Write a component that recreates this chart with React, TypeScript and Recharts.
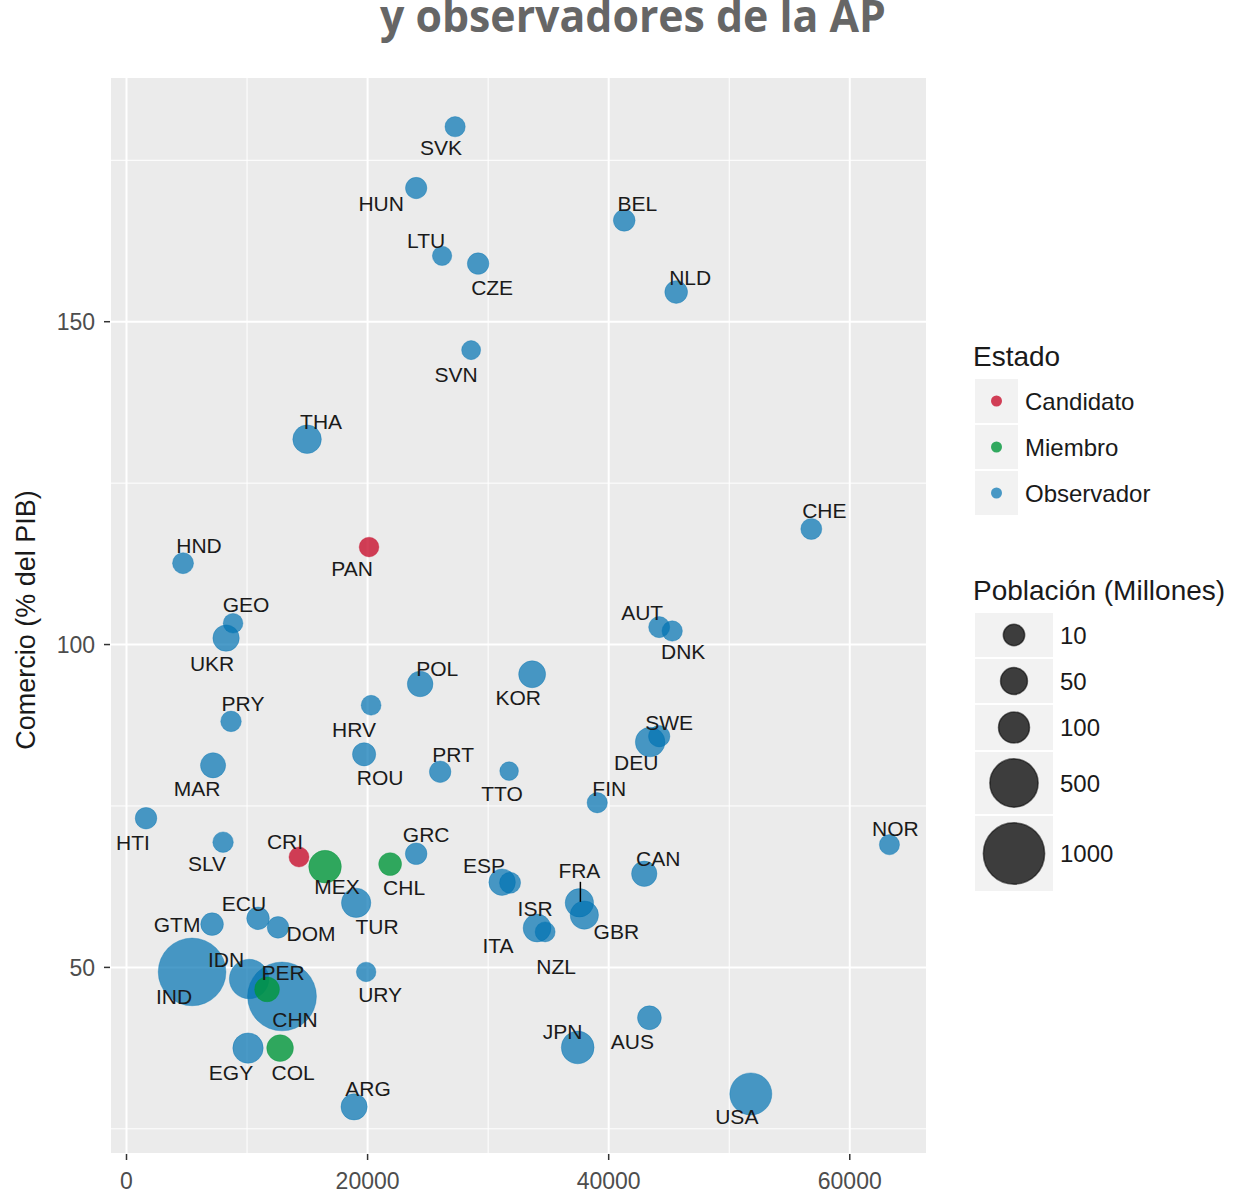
import React from "react";
import { ScatterChart, Scatter, XAxis, YAxis, CartesianGrid, ReferenceLine } from "recharts";

// country code, GDP per capita, trade (% GDP), population (millions), status
const codes = [
  "SVK", "HUN", "LTU", "CZE", "BEL", "NLD", "SVN", "THA", "HND", "GEO",
  "UKR", "POL", "KOR", "HRV", "PRY", "ROU", "PRT", "TTO", "MAR", "AUT",
  "DNK", "CHE", "SWE", "DEU", "FIN", "HTI", "NOR", "SLV", "GRC", "ESP",
  "ISR", "ITA", "NZL", "FRA", "GBR", "CAN", "JPN", "AUS", "USA", "GTM",
  "ECU", "DOM", "TUR", "URY", "IND", "IDN", "CHN", "EGY", "ARG",
  "PAN", "CRI",
  "MEX", "CHL", "PER", "COL",
];
const gdpPc = [
  27260, 24030, 26180, 29170, 41290, 45600, 28590, 14980, 4690, 8840,
  8260, 24360, 33650, 20290, 8670, 19710, 26020, 31740, 7180, 44190,
  45270, 56810, 44190, 43440, 39050, 1620, 63290, 8010, 24030, 31160,
  31820, 34060, 34730, 37570, 37980, 42950, 37430, 43380, 51790, 7100,
  10910, 12570, 19050, 19880, 5440, 10170, 12900, 10080, 18880,
  20120, 14310,
  16470, 21870, 11660, 12740,
];
const trade = [
  180.2, 170.7, 160.2, 159.0, 165.7, 154.6, 145.6, 131.8, 112.6, 103.3,
  101.0, 93.9, 95.4, 90.6, 88.1, 83.0, 80.3, 80.4, 81.3, 102.7,
  102.1, 117.9, 85.8, 84.9, 75.5, 73.1, 69.0, 69.4, 67.6, 63.2,
  63.1, 56.1, 55.5, 60.0, 58.1, 64.5, 37.6, 42.2, 30.4, 56.7,
  57.6, 56.2, 60.0, 49.3, 49.3, 48.2, 45.5, 37.5, 28.4,
  115.1, 67.1,
  65.6, 66.0, 46.6, 37.5,
];
const population = [
  5.4, 9.8, 2.9, 10.5, 11.3, 16.9, 2.1, 68, 8.1, 3.7,
  45, 38, 50.6, 4.2, 6.6, 19.8, 10.4, 1.4, 34, 8.6,
  5.7, 8.3, 9.8, 81, 5.5, 10.7, 5.2, 6.3, 10.8, 46.4,
  8.4, 60.7, 4.6, 66.6, 65.1, 35.8, 127, 23.8, 321, 16.3,
  16.1, 10.5, 78.3, 3.4, 1311, 258, 1371, 91.5, 43.4,
  3.9, 4.8,
  125, 17.8, 31.4, 48.2,
];
const estado = [
  ...Array(49).fill("Observador"),
  "Candidato", "Candidato",
  "Miembro", "Miembro", "Miembro", "Miembro",
];

const estadoLevels = ["Candidato", "Miembro", "Observador"];
const drawOrder = ["Observador", "Candidato", "Miembro"];
const sizeBreaks = [10, 50, 100, 500, 1000];
const xTicks = [0, 20000, 40000, 60000];
const yTicks = [50, 100, 150];
const xMinor = [10000, 30000, 50000];
const yMinor = [25, 75, 125, 175];

// label placement (pixel offsets from point centre), like ggrepel output
const labelOffset: Record<string, [number, number]> = {
  SVK: [-14, 21], HUN: [-35, 15], LTU: [-16, -15], CZE: [14, 24], BEL: [13, -17],
  NLD: [14, -15], SVN: [-15, 24], THA: [14, -18], HND: [16, -18], PAN: [-17, 21],
  GEO: [13, -19], UKR: [-14, 25], POL: [17, -15], KOR: [-14, 23], HRV: [-17, 24],
  PRY: [12, -18], ROU: [16, 23], PRT: [13, -17], TTO: [-7, 22], MAR: [-16, 23],
  AUT: [-17, -15], DNK: [11, 21], CHE: [13, -18], SWE: [10, -14], DEU: [-14, 20],
  FIN: [12, -14], HTI: [-13, 24], NOR: [6, -16], SLV: [-16, 21], CRI: [-14, -15],
  MEX: [12, 20], GRC: [10, -19], CHL: [14, 23], ESP: [-18, -17], ISR: [25, 26],
  ITA: [-39, 17], NZL: [11, 35], FRA: [0, -32], GBR: [32, 16], CAN: [14, -15],
  JPN: [-15, -16], AUS: [-17, 24], USA: [-14, 23], GTM: [-35, 0], ECU: [-14, -15],
  DOM: [33, 6], TUR: [21, 24], URY: [14, 23], IND: [-18, 25], IDN: [-23, -20],
  CHN: [13, 23], PER: [16, -17], EGY: [-17, 24], COL: [13, 24], ARG: [14, -18],
};
const withSegment = ["FRA"];

const colors: Record<string, string> = {
  Candidato: "#c8102e",
  Miembro: "#00963a",
  Observador: "#0072B2",
};
const opacity: Record<string, number> = { Candidato: 0.8, Miembro: 0.8, Observador: 0.7 };

const rows = codes.map((code, i) => ({
  code,
  gdp: gdpPc[i],
  trade: trade[i],
  pop: population[i],
  estado: estado[i],
}));

// scale_size-like: diameter grows with sqrt(population)
const diameter = (p: number) => 17 + 1.4 * Math.sqrt(p);

const FONT = "'Liberation Sans', Arial, sans-serif";

const PointShape = (props: any) => {
  const { cx, cy, payload } = props;
  if (cx == null || cy == null) return null;
  const c = colors[payload.estado];
  const o = opacity[payload.estado];
  return (
    <circle
      cx={cx}
      cy={cy}
      r={diameter(payload.pop) / 2}
      fill={c}
      fillOpacity={o}
      stroke={c}
      strokeOpacity={0.35}
      strokeWidth={1}
    />
  );
};

const LabelShape = (props: any) => {
  const { cx, cy, payload } = props;
  if (cx == null || cy == null) return null;
  const [dx, dy] = labelOffset[payload.code] || [0, -18];
  return (
    <g>
      {withSegment.includes(payload.code) && (
        <line x1={cx + 1} y1={cy - 21} x2={cx + 1} y2={cy - 1} stroke="#000" strokeWidth={1.5} />
      )}
      <text
        x={cx + dx}
        y={cy + dy + 7.5}
        textAnchor="middle"
        fontSize={21}
        fontFamily={FONT}
        fill="#1a1a1a"
      >
        {payload.code}
      </text>
    </g>
  );
};

const YTitle = () => (
  <text
    transform="translate(35,620) rotate(-90)"
    x={0}
    y={0}
    textAnchor="middle"
    fontSize={27}
    fontFamily={FONT}
    fill="#1a1a1a"
  >
    Comercio (% del PIB)
  </text>
);

function Legends() {
  let y = 613;
  const sizeRows = sizeBreaks.map((v) => {
    const d = diameter(v);
    const h = Math.max(44, Math.round(d + 14));
    const row = { v, d, y, h };
    y += h + 2;
    return row;
  });
  return (
    <svg
      width={1233}
      height={1193}
      style={{ position: "absolute", left: 0, top: 0, pointerEvents: "none" }}
    >
      <text
        x={633}
        y={32}
        textAnchor="middle"
        fontSize={44}
        fontWeight={700}
        fontFamily="'Open Sans', sans-serif"
        fill="#666666"
        textLength={506}
        lengthAdjust="spacingAndGlyphs"
      >
        y observadores de la AP
      </text>

      <text x={973} y={366} fontSize={28} fontFamily={FONT} fill="#1a1a1a">
        Estado
      </text>
      {estadoLevels.map((lv, i) => {
        const top = 379 + i * 46;
        return (
          <g key={lv}>
            <rect x={975} y={top} width={43} height={44} fill="#f2f2f2" />
            <circle
              cx={996.5}
              cy={top + 22}
              r={5.5}
              fill={colors[lv]}
              fillOpacity={opacity[lv]}
            />
            <text x={1025} y={top + 30.5} fontSize={24} fontFamily={FONT} fill="#1a1a1a">
              {lv}
            </text>
          </g>
        );
      })}

      <text x={973} y={600} fontSize={28} fontFamily={FONT} fill="#1a1a1a">
        Población (Millones)
      </text>
      {sizeRows.map((r) => (
        <g key={r.v}>
          <rect x={975} y={r.y} width={78} height={r.h} fill="#f2f2f2" />
          <circle
            cx={1014}
            cy={r.y + r.h / 2}
            r={r.d / 2}
            fill="#000"
            fillOpacity={0.75}
            stroke="#000"
            strokeOpacity={0.55}
            strokeWidth={1.5}
          />
          <text x={1060} y={r.y + r.h / 2 + 8.5} fontSize={24} fontFamily={FONT} fill="#1a1a1a">
            {r.v}
          </text>
        </g>
      ))}
    </svg>
  );
}

export default function App() {
  return (
    <div
      style={{
        position: "absolute",
        left: 0,
        top: 0,
        width: 1233,
        height: 1193,
        background: "#ffffff",
        overflow: "hidden",
        fontFamily: FONT,
      }}
    >
      <ScatterChart
        width={1233}
        height={1193}
        margin={{ top: 77, right: 306, bottom: 0, left: 0 }}
      >
        <CartesianGrid fill="#ebebeb" fillOpacity={1} stroke="#ffffff" strokeWidth={2} />
        {xMinor.map((v) => (
          <ReferenceLine key={"x" + v} x={v} stroke="#ffffff" strokeWidth={1} />
        ))}
        {yMinor.map((v) => (
          <ReferenceLine key={"y" + v} y={v} stroke="#ffffff" strokeWidth={1} />
        ))}
        <XAxis
          type="number"
          dataKey="gdp"
          domain={[-1369, 66407]}
          allowDataOverflow
          ticks={xTicks}
          height={39}
          axisLine={false}
          tickSize={6}
          tickMargin={13}
          tickLine={{ stroke: "#333333", strokeWidth: 1.5 }}
          tick={{ fill: "#4d4d4d", fontSize: 23, fontFamily: FONT }}
        />
        <YAxis
          type="number"
          dataKey="trade"
          domain={[21.1, 187.9]}
          allowDataOverflow
          ticks={yTicks}
          width={110}
          axisLine={false}
          tickSize={6}
          tickMargin={9}
          tickLine={{ stroke: "#333333", strokeWidth: 1.5 }}
          tick={{ fill: "#4d4d4d", fontSize: 23, fontFamily: FONT }}
          label={{ content: () => <YTitle /> }}
        />
        {drawOrder.map((lv) => (
          <Scatter
            key={lv}
            name={lv}
            data={rows.filter((r) => r.estado === lv)}
            shape={PointShape}
            isAnimationActive={false}
          />
        ))}
        <Scatter
          name="labels"
          data={rows}
          shape={LabelShape}
          legendType="none"
          isAnimationActive={false}
        />
      </ScatterChart>
      <Legends />
    </div>
  );
}
